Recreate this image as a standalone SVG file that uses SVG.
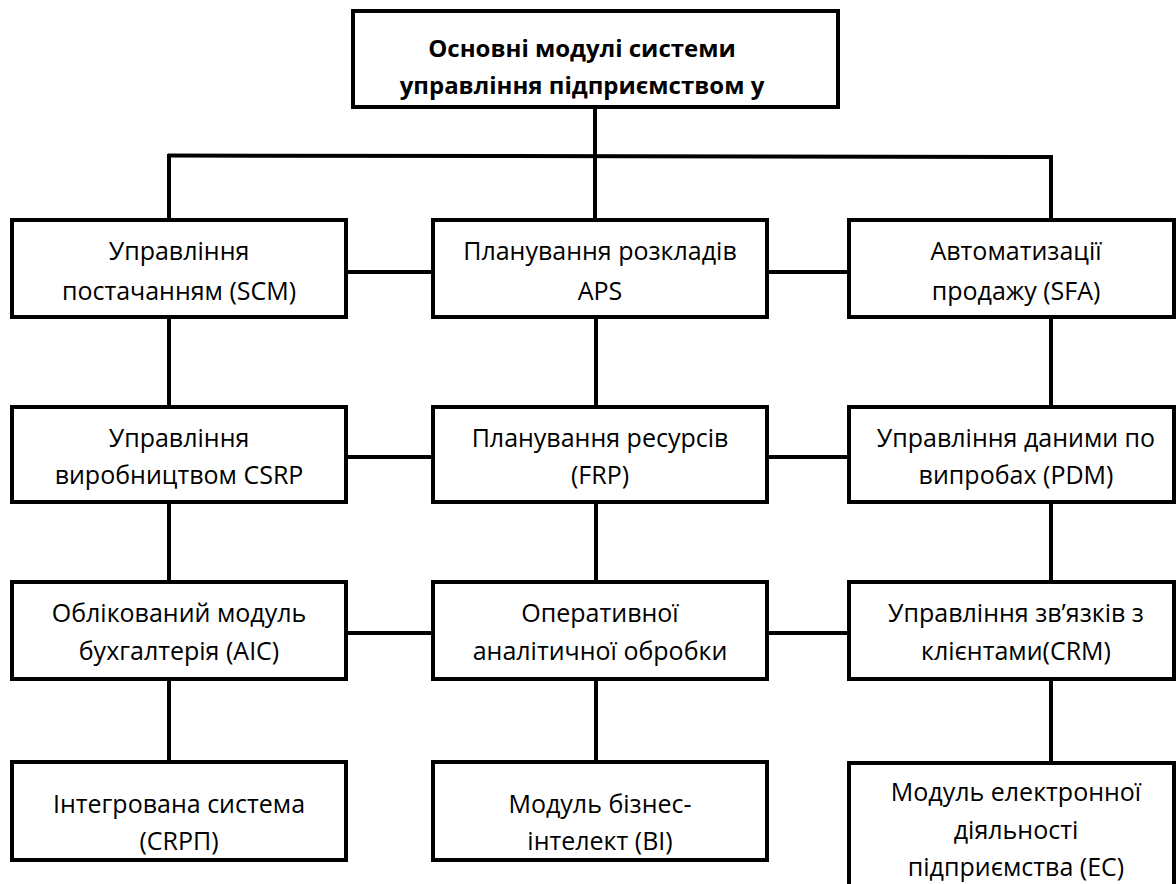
<svg xmlns="http://www.w3.org/2000/svg" width="1176" height="884" viewBox="0 0 1176 884">
  <style>
    .box { fill: #ffffff; stroke: #000000; stroke-width: 4; }
    .wire { stroke: #000000; stroke-width: 4; fill: none; stroke-linecap: square; }
    .lbl { font-family: "Open Sans", "Noto Sans", "DejaVu Sans", sans-serif; font-size: 25px; fill: #000000; text-anchor: middle; }
    .title { font-weight: bold; font-size: 24px; }
  </style>
  <rect x="0" y="0" width="1176" height="884" fill="#ffffff"/>

  <!-- connectors -->
  <g id="connectors">
    <line class="wire" x1="595" y1="107" x2="595" y2="219"/>
    <line class="wire" x1="170" y1="155.5" x2="1051" y2="157"/>
    <line class="wire" x1="169" y1="156" x2="169" y2="219"/>
    <line class="wire" x1="1051" y1="157" x2="1051" y2="219"/>
    <!-- row 1 links -->
    <line class="wire" x1="346" y1="272" x2="433" y2="272"/>
    <line class="wire" x1="767" y1="272" x2="849" y2="272"/>
    <line class="wire" x1="169" y1="317" x2="169" y2="407"/>
    <line class="wire" x1="596" y1="317" x2="596" y2="407"/>
    <line class="wire" x1="1051" y1="317" x2="1051" y2="407"/>
    <!-- row 2 links -->
    <line class="wire" x1="346" y1="457" x2="433" y2="457"/>
    <line class="wire" x1="767" y1="457" x2="849" y2="457"/>
    <line class="wire" x1="169" y1="502" x2="169" y2="582"/>
    <line class="wire" x1="596" y1="502" x2="596" y2="582"/>
    <line class="wire" x1="1051" y1="502" x2="1051" y2="582"/>
    <!-- row 3 links -->
    <line class="wire" x1="346" y1="633" x2="433" y2="633"/>
    <line class="wire" x1="767" y1="633" x2="849" y2="633"/>
    <line class="wire" x1="169" y1="679" x2="169" y2="762"/>
    <line class="wire" x1="596" y1="679" x2="596" y2="762"/>
    <line class="wire" x1="1051" y1="679" x2="1051" y2="763"/>
  </g>

  <!-- root -->
  <g id="root">
    <rect class="box" x="353" y="11" width="485" height="96"/>
    <text class="lbl title" x="582" y="57">Основні модулі системи</text>
    <text class="lbl title" x="582" y="94">управління підприємством у</text>
  </g>

  <!-- row 1 -->
  <g id="scm">
    <rect class="box" x="12" y="220" width="334" height="97"/>
    <text class="lbl" x="179" y="260">Управління</text>
    <text class="lbl" x="179" y="300">постачанням (SCM)</text>
  </g>
  <g id="aps">
    <rect class="box" x="433" y="220" width="334" height="97"/>
    <text class="lbl" x="600" y="260">Планування розкладів</text>
    <text class="lbl" x="600" y="300">APS</text>
  </g>
  <g id="sfa">
    <rect class="box" x="849" y="220" width="325" height="97"/>
    <text class="lbl" x="1016" y="260">Автоматизації</text>
    <text class="lbl" x="1016" y="300">продажу (SFA)</text>
  </g>

  <!-- row 2 -->
  <g id="csrp">
    <rect class="box" x="12" y="407" width="334" height="95"/>
    <text class="lbl" x="179" y="447">Управління</text>
    <text class="lbl" x="179" y="484">виробництвом CSRP</text>
  </g>
  <g id="frp">
    <rect class="box" x="433" y="407" width="334" height="95"/>
    <text class="lbl" x="600" y="447">Планування ресурсів</text>
    <text class="lbl" x="600" y="484">(FRP)</text>
  </g>
  <g id="pdm">
    <rect class="box" x="849" y="407" width="325" height="95"/>
    <text class="lbl" x="1016" y="447">Управління даними по</text>
    <text class="lbl" x="1016" y="484">випробах (PDM)</text>
  </g>

  <!-- row 3 -->
  <g id="aic">
    <rect class="box" x="12" y="582" width="334" height="97"/>
    <text class="lbl" x="179" y="622">Облікований модуль</text>
    <text class="lbl" x="179" y="660">бухгалтерія (AIC)</text>
  </g>
  <g id="olap">
    <rect class="box" x="433" y="582" width="334" height="97"/>
    <text class="lbl" x="600" y="622">Оперативної</text>
    <text class="lbl" x="600" y="660">аналітичної обробки</text>
  </g>
  <g id="crm">
    <rect class="box" x="849" y="582" width="325" height="97"/>
    <text class="lbl" x="1016" y="622">Управління зв’язків з</text>
    <text class="lbl" x="1016" y="660">клієнтами(CRM)</text>
  </g>

  <!-- row 4 -->
  <g id="crpp">
    <rect class="box" x="12" y="762" width="334" height="98"/>
    <text class="lbl" x="179" y="813">Інтегрована система</text>
    <text class="lbl" x="179" y="850">(CRPП)</text>
  </g>
  <g id="bi">
    <rect class="box" x="433" y="762" width="334" height="98"/>
    <text class="lbl" x="600" y="813">Модуль бізнес-</text>
    <text class="lbl" x="600" y="850">інтелект (BI)</text>
  </g>
  <g id="ec">
    <rect class="box" x="849" y="763" width="325" height="140"/>
    <text class="lbl" x="1016" y="801">Модуль електронної</text>
    <text class="lbl" x="1016" y="839">діяльності</text>
    <text class="lbl" x="1016" y="876">підприємства (EC)</text>
  </g>
</svg>
